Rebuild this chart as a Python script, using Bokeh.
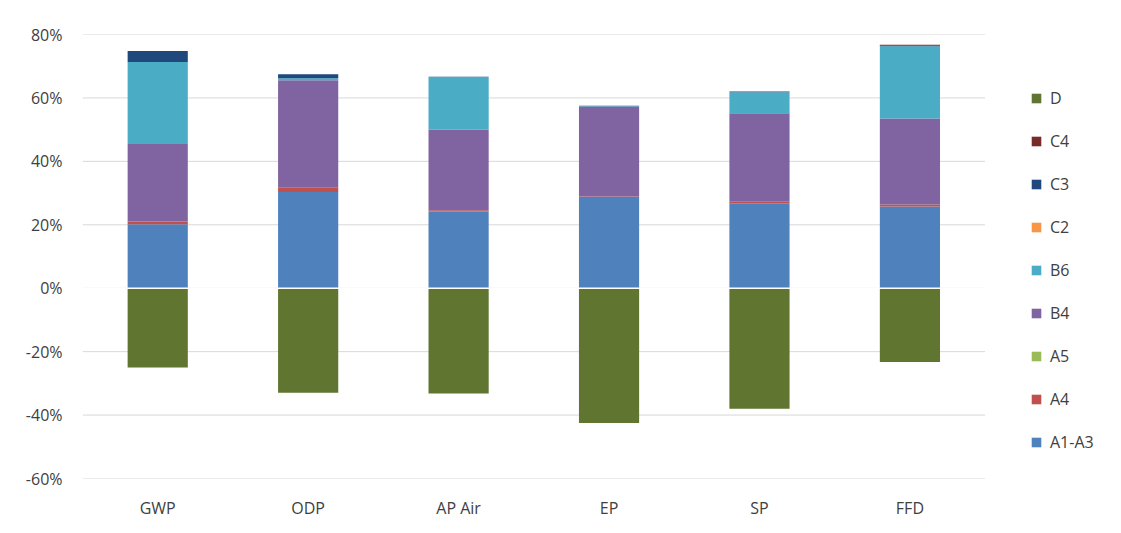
from bokeh.plotting import figure
from bokeh.models import ColumnDataSource, Legend, LegendItem, NumeralTickFormatter, FixedTicker, Range1d
from bokeh.embed import file_html
from bokeh.resources import INLINE

cats = ["GWP", "ODP", "AP Air", "EP", "SP", "FFD"]
a1a3 = [0.202, 0.303, 0.242, 0.288, 0.268, 0.258]
a4 = [0.008, 0.015, 0.004, 0.001, 0.006, 0.006]
a5 = [0.0, 0.0, 0.0, 0.0, 0.0, 0.0]
b4 = [0.245, 0.338, 0.254, 0.283, 0.278, 0.271]
b6 = [0.258, 0.006, 0.165, 0.002, 0.066, 0.228]
c2 = [0.0, 0.0, 0.0, 0.0, 0.0, 0.0]
c3 = [0.035, 0.013, 0.002, 0.001, 0.002, 0.003]
c4 = [0.0, 0.0, 0.0, 0.0, 0.0, 0.002]
d = [-0.25, -0.33, -0.332, -0.425, -0.38, -0.233]
yticks = [-0.6, -0.4, -0.2, 0, 0.2, 0.4, 0.6, 0.8]

names = ["A1-A3", "A4", "A5", "B4", "B6", "C2", "C3", "C4"]
colors = ["#4F81BD", "#C0504D", "#9BBB59", "#8064A2", "#4BACC6", "#F79646", "#1F497D", "#772C2A"]
d_color = "#5F7530"

xs = list(range(len(cats)))
src = ColumnDataSource(dict(x=xs, d=d, **dict(zip(names, [a1a3, a4, a5, b4, b6, c2, c3, c4]))))

p = figure(x_range=Range1d(-0.5, 6.3), y_range=(-0.6, 0.8), width=1105, height=525,
           output_backend="svg", toolbar_location=None,
           min_border_left=82, min_border_top=34, min_border_bottom=47, min_border_right=0)
p.outline_line_color = None
p.xgrid.grid_line_color = None
p.ygrid.grid_line_color = None
p.segment(x0=-0.5, x1=5.5, y0=yticks, y1=yticks, color="#D9D9D9", line_width=1)
p.xaxis.ticker = FixedTicker(ticks=xs)
p.xaxis.major_label_overrides = {i: c for i, c in enumerate(cats)}
p.yaxis.ticker = FixedTicker(ticks=yticks)
p.yaxis.formatter = NumeralTickFormatter(format="0%")
for ax in (p.xaxis, p.yaxis):
    ax.axis_line_color = None
    ax.major_tick_line_color = None
    ax.minor_tick_line_color = None
    ax.major_label_text_font = "Open Sans"
    ax.major_label_text_font_size = "16px"
    ax.major_label_text_color = "#404040"
p.xaxis.major_label_standoff = 12
p.yaxis.major_label_standoff = 14

rs = p.vbar_stack(names, x="x", width=0.4, color=colors, line_color=None, source=src)
rd = p.vbar(x="x", top=0, bottom="d", width=0.4, color=d_color, line_color=None, source=src)
p.segment(x0=-0.5, x1=5.5, y0=0, y1=0, color="white", line_width=1.5)

items = [LegendItem(label="D", renderers=[rd])]
for n, r in reversed(list(zip(names, rs))):
    items.append(LegendItem(label=n, renderers=[r]))
leg = Legend(items=items, location=(948, 25), border_line_color=None, background_fill_alpha=0,
             label_text_font="Open Sans", label_text_font_size="16px", label_standoff=8,
             label_text_color="#404040", glyph_width=12, glyph_height=12, spacing=21, padding=5)
p.add_layout(leg, "center")

open("out.html", "w").write(file_html(p, INLINE))
